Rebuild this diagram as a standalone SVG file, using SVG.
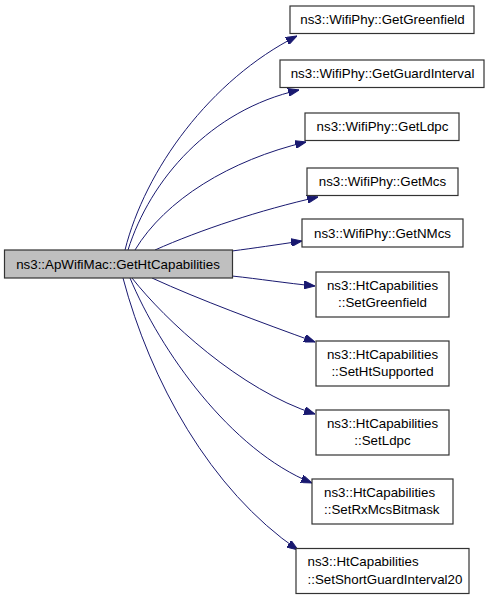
<svg xmlns="http://www.w3.org/2000/svg" width="491" height="600" viewBox="0 0 491 600">
<style>
.node rect{fill:#ffffff;stroke:#333333;stroke-width:1.2}
#main rect{fill:#bfbfbf}
text{font-family:"Liberation Sans",Arial,Helvetica,sans-serif;font-size:13.33px;fill:#000000}
.c{text-anchor:middle}
.s{text-anchor:start}
.edges path{fill:none;stroke:#191970;stroke-width:1}
</style>
<defs>
<marker id="ah" viewBox="0 0 11 8" refX="11" refY="4" markerWidth="11" markerHeight="8" markerUnits="userSpaceOnUse" orient="auto">
<path d="M0,0 L11,4 L0,8 z" fill="#191970" stroke="#191970" stroke-width="1"/>
</marker>
</defs>
<rect width="491" height="600" fill="#ffffff"/>
<g class="edges">
<path marker-end="url(#ah)" d="M125,250 C145,170 210,80 297,36"/>
<path marker-end="url(#ah)" d="M128,250 C150,180 210,110 299,90"/>
<path marker-end="url(#ah)" d="M135,250 C165,200 230,160 306,142"/>
<path marker-end="url(#ah)" d="M155,250 C200,230 260,210 318,197"/>
<path marker-end="url(#ah)" d="M232,251 C255,248 275,245 302,241"/>
<path marker-end="url(#ah)" d="M232,276 C260,279 285,283 315,286"/>
<path marker-end="url(#ah)" d="M152,278 C200,300 260,322 315,342"/>
<path marker-end="url(#ah)" d="M132,278 C165,320 240,390 315,414"/>
<path marker-end="url(#ah)" d="M130,278 C160,350 230,450 312,483"/>
<path marker-end="url(#ah)" d="M123,278 C150,380 210,490 298,550"/>
</g>
<g id="main" class="node"><rect x="4.5" y="250" width="228" height="28"/><text class="c" x="118" y="268.5">ns3::ApWifiMac::GetHtCapabilities</text></g>
<g id="n1" class="node"><rect x="290" y="6" width="184" height="27.5"/><text class="c" x="382.5" y="24">ns3::WifiPhy::GetGreenfield</text></g>
<g id="n2" class="node"><rect x="280" y="60" width="204" height="27.5"/><text class="c" x="382.5" y="78">ns3::WifiPhy::GetGuardInterval</text></g>
<g id="n3" class="node"><rect x="305" y="113" width="154" height="27.5"/><text class="c" x="382.5" y="131">ns3::WifiPhy::GetLdpc</text></g>
<g id="n4" class="node"><rect x="307" y="168" width="151" height="27.5"/><text class="c" x="382.5" y="186">ns3::WifiPhy::GetMcs</text></g>
<g id="n5" class="node"><rect x="302" y="219" width="161" height="28"/><text class="c" x="382.5" y="237.5">ns3::WifiPhy::GetNMcs</text></g>
<g id="n6" class="node"><rect x="316" y="272" width="133" height="45"/><text class="c" x="382.5" y="289.5">ns3::HtCapabilities</text><text class="c" x="382.5" y="307">::SetGreenfield</text></g>
<g id="n7" class="node"><rect x="316" y="341" width="133" height="45"/><text class="c" x="382.5" y="358.5">ns3::HtCapabilities</text><text class="c" x="382.5" y="376">::SetHtSupported</text></g>
<g id="n8" class="node"><rect x="316" y="410" width="133" height="45"/><text class="c" x="382.5" y="427.5">ns3::HtCapabilities</text><text class="c" x="382.5" y="445">::SetLdpc</text></g>
<g id="n9" class="node"><rect x="312" y="479" width="141" height="45"/><text class="s" x="324" y="496.5">ns3::HtCapabilities</text><text class="s" x="324" y="514">::SetRxMcsBitmask</text></g>
<g id="n10" class="node"><rect x="296" y="548.5" width="173" height="45"/><text class="s" x="307.5" y="566">ns3::HtCapabilities</text><text class="s" x="307.5" y="583.5">::SetShortGuardInterval20</text></g>
</svg>
